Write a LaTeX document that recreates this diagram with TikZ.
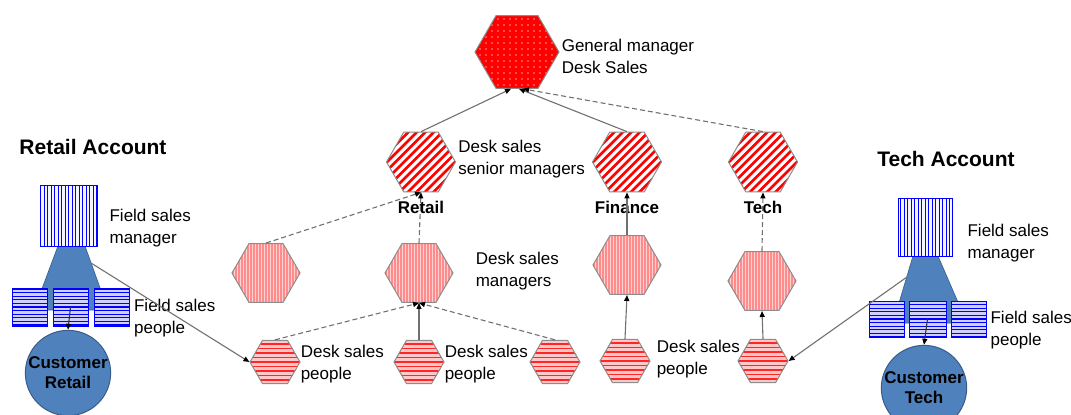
\documentclass[tikz,border=0pt]{standalone}
\usepackage{fontspec}
\setmainfont{Liberation Sans}
\usetikzlibrary{positioning,arrows.meta,shapes.geometric,patterns.meta}
\definecolor{linegray}{HTML}{707070}
\definecolor{acctblue}{HTML}{4F81BD}
\definecolor{acctedge}{HTML}{385D8A}

\begin{document}
\begin{tikzpicture}[x=1pt, y=-1pt,
  font=\fontsize{17}{22}\selectfont,
  hex/.style={regular polygon, regular polygon sides=6, inner sep=0pt, draw=gray!90, line width=1pt},
  gmhex/.style={hex, minimum size=84pt, preaction={fill=red}, pattern={Dots[distance=6pt,radius=0.8pt]}, pattern color=red!40!white},
  % stripes are drawn inside the node outline
  senior/.style={hex, minimum size=69pt, fill=white, path picture={
      \foreach \k in {-8,...,8}
        \draw[red, line width=2.6pt] ([xshift=\k*8.5pt-40pt, yshift=-40pt]path picture bounding box.center) -- ([xshift=\k*8.5pt+40pt, yshift=40pt]path picture bounding box.center);}},
  mgr/.style={hex, minimum size=68pt, fill=red!18, path picture={
      \foreach \k in {-12,...,12}
        \draw[red!45, line width=1.3pt] ([xshift=\k*3pt]path picture bounding box.north) -- ([xshift=\k*3pt]path picture bounding box.south);}},
  ppl/.style={hex, minimum size=50pt, fill=red!22, path picture={
      \foreach \k in {-6,...,6}
        \draw[red!85, line width=1.6pt] ([yshift=\k*4.5pt]path picture bounding box.west) -- ([yshift=\k*4.5pt]path picture bounding box.east);}},
  desc/.style={align=left, inner sep=0pt},
  team/.style={font=\fontsize{17}{22}\selectfont\bfseries, inner sep=1pt},
  head/.style={font=\fontsize{21}{25}\selectfont\bfseries},
  fsm/.style={draw=blue, line width=0.8pt, minimum width=57pt, minimum height=61pt, inner sep=0pt, fill=blue!4, path picture={
      \foreach \k in {-9,...,9}
        \draw[blue, line width=0.9pt] ([xshift=\k*3.5pt]path picture bounding box.north) -- ([xshift=\k*3.5pt]path picture bounding box.south);}},
  fsp/.style={draw=blue, line width=0.8pt, minimum width=35pt, minimum height=38pt, inner sep=0pt, fill=blue!18, path picture={
      \foreach \k in {-6,...,6}
        \draw[blue, line width=1.3pt] ([yshift=\k*3.6pt]path picture bounding box.west) -- ([yshift=\k*3.6pt]path picture bounding box.east);}},
  cust/.style={circle, draw=acctedge, line width=1pt, fill=acctblue, minimum size=70pt, inner sep=0pt, align=center, font=\fontsize{17}{20}\selectfont\bfseries},
  funnel/.style={fill=acctblue, draw=acctedge, line width=0.6pt},
  arr/.style={-{Triangle[length=6pt,width=5pt,color=black]}, linegray, line width=1.1pt},
  dashedarr/.style={arr, dash pattern=on 5pt off 3pt}
]
\useasboundingbox (0,0) rectangle (1071,415);

% desk sales hierarchy
\node[gmhex] (gm) at (517,52) {};
\node[desc, right=2pt of gm, yshift=-4pt] {General manager\\Desk Sales};

\node[senior] (retsen) at (421,162) {};
\node[senior] (finsen) at (627,162) {};
\node[senior] (techsen) at (763,162) {};
\node[desc, right=2pt of retsen, yshift=3pt] {Desk sales\\senior managers};
\node[team, below=8pt of retsen] {Retail};
\node[team, below=8pt of finsen] {Finance};
\node[team, below=8pt of techsen] {Tech};

\node[mgr] (xmgr) at (266,273) {};
\node[mgr] (retmgr) at (419,273) {};
\node[mgr] (finmgr) at (627,265) {};
\node[mgr] (techmgr) at (762,281) {};
\node[desc, right=22pt of retmgr, yshift=2pt] {Desk sales\\managers};

\node[ppl] (ppl1) at (275,362) {};
\node[ppl] (ppl2) at (419,362) {};
\node[ppl] (ppl3) at (555,362) {};
\node[ppl] (finppl) at (625,361) {};
\node[ppl] (techppl) at (763,361) {};
\node[desc, right=0pt of ppl1, yshift=-2pt] {Desk sales\\people};
\node[desc, right=0pt of ppl2, yshift=-2pt] {Desk sales\\people};
\node[desc, right=6pt of finppl, yshift=2pt] {Desk sales\\people};

\draw[arr] (retsen.north) -- ([xshift=-6pt]gm.south);
\draw[arr] (finsen.north) -- ([xshift=2pt]gm.south);
\draw[dashedarr] (techsen.north) -- ([xshift=6pt]gm.south);
\draw[dashedarr] (xmgr.north) -- (retsen.south);
\draw[dashedarr] (retmgr.north) -- (retsen.south);
\draw[arr] (finmgr.north) -- (finsen.south);
\draw[dashedarr] (techmgr.north) -- (techsen.south);
\draw[dashedarr] (ppl1.north) -- (retmgr.south);
\draw[arr] (ppl2.north) -- (retmgr.south);
\draw[dashedarr] (ppl3.north) -- (retmgr.south);
\draw[arr] (finppl.north) -- (finmgr.south);
\draw[arr] (techppl.north) -- (techmgr.south);

% retail account
\node[head] at (93,147) {Retail Account};
\draw[funnel] (58,246) -- (85,246) -- (108,310) -- (34,310) -- cycle;
\coordinate (rout) at (91,263);
\node[fsm] (rfsm) at (68.5,215.5) {};
\node[fsp] (rfs1) at (29.5,307) {};
\node[fsp] (rfs2) at (70.5,307) {};
\node[fsp] (rfs3) at (112,307) {};
\node[cust] (rcust) at (68,373) {Customer\\Retail};
\node[desc, right=12pt of rfsm, yshift=-13pt] {Field sales\\manager};
\node[desc, right=4pt of rfs3, yshift=-11pt] {Field sales\\people};
\draw[arr, black!80] (rfs2.center) -- (rcust.north);
\draw[arr] (rout) -- (ppl1.west);

% tech account
\node[head] at (946,159) {Tech Account};
\draw[funnel] (913,256) -- (938,256) -- (967,323) -- (893,323) -- cycle;
\coordinate (tout) at (907,277);
\node[fsm, minimum width=54pt, minimum height=58pt] (tfsm) at (925,227) {};
\node[fsp, minimum height=36pt] (tfs1) at (886.5,319) {};
\node[fsp, minimum width=37pt, minimum height=36pt] (tfs2) at (927.5,319) {};
\node[fsp, minimum height=36pt] (tfs3) at (968.5,319) {};
\node[cust] (tcust) at (924,388) {Customer\\Tech};
\node[desc, right=15pt of tfsm, yshift=-16pt] {Field sales\\manager};
\node[desc, right=4pt of tfs3, yshift=-11pt] {Field sales\\people};
\draw[arr, black!80] (tfs2.center) -- (tcust.north);
\draw[arr] (tout) -- (techppl.east);
\end{tikzpicture}
\end{document}
